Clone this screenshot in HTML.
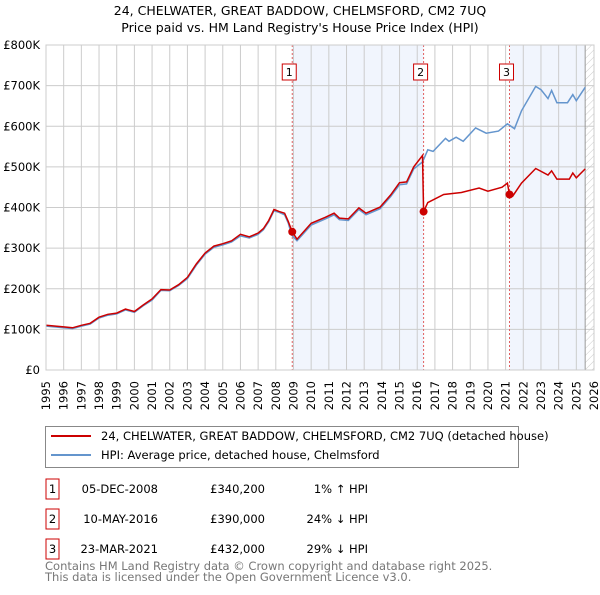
<!DOCTYPE html>
<html><head><meta charset="utf-8"><style>
body{margin:0;background:#fff;font-family:"Liberation Sans","DejaVu Sans",sans-serif;}
svg text{font-family:"DejaVu Sans","Liberation Sans",sans-serif;}
</style></head><body>
<svg id="c" width="600" height="590" viewBox="0 0 600 590" xmlns="http://www.w3.org/2000/svg">
<text x="300" y="15" text-anchor="middle" font-size="12.5" fill="#000">24, CHELWATER, GREAT BADDOW, CHELMSFORD, CM2 7UQ</text>
<text x="300" y="32" text-anchor="middle" font-size="12.5" fill="#000">Price paid vs. HM Land Registry's House Price Index (HPI)</text>
<defs><pattern id="hatch" width="5" height="5" patternUnits="userSpaceOnUse" patternTransform="rotate(45)"><line x1="0" y1="0" x2="0" y2="5" stroke="#ccc" stroke-width="1"/></pattern></defs>
<g id="grid"></g><g id="plot"></g>
<rect x="46" y="45" width="548" height="325" fill="none" stroke="#ccc"/>
<g>
<rect x="45.5" y="426.5" width="473" height="41" fill="#fff" stroke="#888"/>
<line x1="51" y1="436" x2="91" y2="436" stroke="#cc0000" stroke-width="2"/>
<text x="101" y="440" font-size="11.5">24, CHELWATER, GREAT BADDOW, CHELMSFORD, CM2 7UQ (detached house)</text>
<line x1="51" y1="455" x2="91" y2="455" stroke="#6495cd" stroke-width="2"/>
<text x="101" y="459" font-size="11.5">HPI: Average price, detached house, Chelmsford</text>
</g>
<g font-size="11.5">
<rect x="46" y="479" width="13" height="20" fill="none" stroke="#cc0000"/><text x="52.5" y="493" text-anchor="middle">1</text>
<text x="158" y="493" text-anchor="end">05-DEC-2008</text><text x="265" y="493" text-anchor="end">£340,200</text><text x="368" y="493" text-anchor="end">1% ↑ HPI</text>
<rect x="46" y="509" width="13" height="20" fill="none" stroke="#cc0000"/><text x="52.5" y="523" text-anchor="middle">2</text>
<text x="158" y="523" text-anchor="end">10-MAY-2016</text><text x="265" y="523" text-anchor="end">£390,000</text><text x="368" y="523" text-anchor="end">24% ↓ HPI</text>
<rect x="46" y="539" width="13" height="20" fill="none" stroke="#cc0000"/><text x="52.5" y="553" text-anchor="middle">3</text>
<text x="158" y="553" text-anchor="end">23-MAR-2021</text><text x="265" y="553" text-anchor="end">£432,000</text><text x="368" y="553" text-anchor="end">29% ↓ HPI</text>
</g>
<text x="45" y="570" font-size="11.5" fill="#777">Contains HM Land Registry data © Crown copyright and database right 2025.</text>
<text x="45" y="581" font-size="11.5" fill="#777">This data is licensed under the Open Government Licence v3.0.</text>
</svg>
<script>
const yTicks=[0,100,200,300,400,500,600,700,800];
const yTickLabels=["£0","£100K","£200K","£300K","£400K","£500K","£600K","£700K","£800K"];
const xYears=[1995,1996,1997,1998,1999,2000,2001,2002,2003,2004,2005,2006,2007,2008,2009,2010,2011,2012,2013,2014,2015,2016,2017,2018,2019,2020,2021,2022,2023,2024,2025,2026];
const hpiDates=[1995,1996,1996.5,1997,1997.5,1998,1998.5,1999,1999.5,2000,2000.5,2001,2001.5,2002,2002.5,2003,2003.5,2004,2004.5,2005,2005.5,2006,2006.5,2007,2007.3,2007.6,2007.9,2008.2,2008.5,2008.7,2008.9,2009.2,2010,2010.8,2011.3,2011.6,2012.1,2012.7,2013.1,2013.9,2014.5,2015,2015.4,2015.8,2016.3,2016.6,2016.9,2017.6,2017.8,2018.2,2018.6,2019.3,2019.9,2020.6,2021.1,2021.5,2021.9,2022.7,2023.0,2023.4,2023.6,2023.9,2024.5,2024.8,2025.0,2025.5];
const hpiValues=[108,104,102,108,113,128,135,138,148,142,158,172,196,195,208,225,258,285,302,308,315,330,325,334,345,365,392,388,382,362,332,318,357,372,382,370,368,395,382,397,427,456,458,495,512,542,538,570,563,573,563,596,583,588,606,594,638,698,690,668,688,658,658,678,663,696];
const redDates=[1995,1996,1996.5,1997,1997.5,1998,1998.5,1999,1999.5,2000,2000.5,2001,2001.5,2002,2002.5,2003,2003.5,2004,2004.5,2005,2005.5,2006,2006.5,2007,2007.3,2007.6,2007.9,2008.2,2008.5,2008.7,2008.93,2009.2,2010,2010.8,2011.3,2011.6,2012.1,2012.7,2013.1,2013.9,2014.5,2015,2015.4,2015.8,2016.3,2016.36,2016.6,2017.5,2018.5,2019.5,2020.0,2020.8,2021.1,2021.22,2021.4,2021.9,2022.7,2023.4,2023.6,2023.9,2024.6,2024.8,2025.0,2025.5];
const redValues=[110,106,104,110,115,130,137,140,150,144,160,175,198,197,210,228,261,288,305,311,318,334,328,337,348,368,395,390,386,366,340.2,322,361,376,386,374,372,399,386,401,431,461,463,500,528,390,412,432,437,448,440,450,460,432,428,460,496,480,490,470,470,485,473,495];
const saleDates=[2008.93,2016.36,2021.22];
const saleValues=[340.2,390,432];
const saleLabels=["1","2","3"];
const X0=46,X1=594,Y0=370,Y1=45;
const xs=y=>X0+(y-1995)/(2026-1995)*(X1-X0);
const ys=v=>Y0-v/800*(Y0-Y1);
const NS="http://www.w3.org/2000/svg";
function mk(t,a,p){const e=document.createElementNS(NS,t);for(const k in a)e.setAttribute(k,a[k]);p.appendChild(e);return e;}
const g=document.getElementById('grid'),p=document.getElementById('plot');
let e=mk('rect',{x:xs(saleDates[0]),y:Y1,width:xs(saleDates[1])-xs(saleDates[0]),height:Y0-Y1,fill:'#eef3fc',opacity:0.8},g);


e=mk('rect',{x:xs(saleDates[2]),y:Y1,width:xs(2025.5)-xs(saleDates[2]),height:Y0-Y1,fill:'#eef3fc',opacity:0.8},g);


e=mk('rect',{x:xs(2025.5),y:Y1,width:X1-xs(2025.5),height:Y0-Y1,fill:'url(#hatch)'},g);


xYears.forEach(y=>{
 const l=mk('line',{x1:xs(y),x2:xs(y),y1:Y1,y2:Y0,stroke:'#ccc'},g);
 
 
 const x=xs(y)+4;
 const t=mk('text',{x:x,y:381,'text-anchor':'end','font-size':'11.5',transform:`rotate(-90 ${x} 381)`},g);t.textContent=y;
 
 
});
yTicks.forEach((v,i)=>{
 const l=mk('line',{x1:X0,x2:X1,y1:ys(v),y2:ys(v),stroke:'#ccc'},g);
 
 
 const t=mk('text',{x:40,y:ys(v)+4,'text-anchor':'end','font-size':'11.5'},g);t.textContent=yTickLabels[i];
 
 
});
e=mk('line',{x1:xs(2025.5),x2:xs(2025.5),y1:Y1,y2:Y0,stroke:'#999'},g);


function series(d,v){const pts=d.map((x,i)=>[x,v[i]]).sort((a,b)=>a[0]-b[0]);return pts.map(q=>xs(q[0]).toFixed(1)+','+ys(q[1]).toFixed(1)).join(' ');}
saleDates.forEach((d,i)=>{
 const l=mk('line',{x1:xs(d),x2:xs(d),y1:Y1,y2:Y0,stroke:'#e06060','stroke-dasharray':'2,2','stroke-width':1},p);
 
 
});
e=mk('polyline',{points:series(hpiDates,hpiValues),fill:'none',stroke:'#6495cd','stroke-width':1.5},p);


e=mk('polyline',{points:series(redDates,redValues),fill:'none',stroke:'#cc0000','stroke-width':1.5},p);


saleDates.forEach((d,i)=>{
 const c=mk('circle',{cx:xs(d),cy:ys(saleValues[i]),r:4,fill:'#cc0000'},p);
 
 
 const b=mk('rect',{x:xs(d)-10,y:64,width:14,height:16,fill:'#fff',stroke:'#cc0000'},p);
 
 
 const t=mk('text',{x:xs(d)-3,y:76,'text-anchor':'middle','font-size':'11'},p);t.textContent=saleLabels[i];
 
 
});
</script>
</body></html>
